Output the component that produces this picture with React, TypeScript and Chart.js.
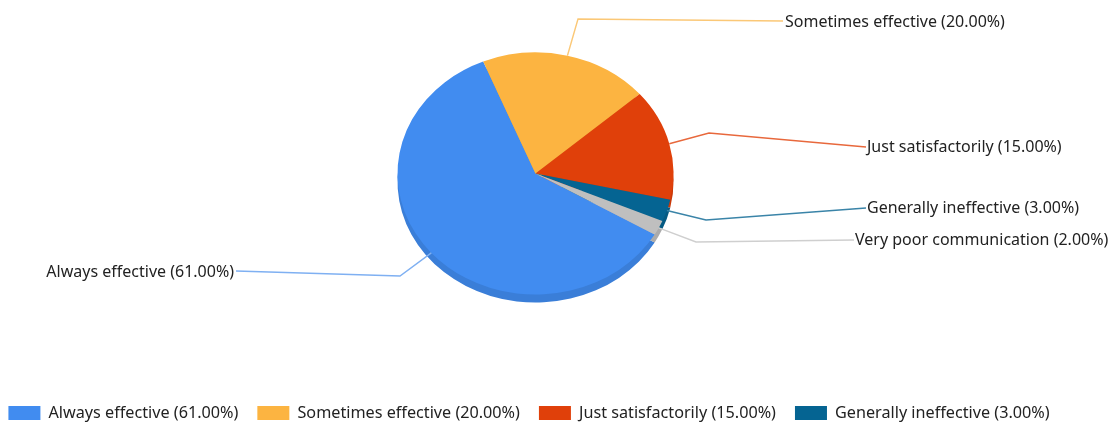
import React, { useEffect, useRef } from "react";
import { Chart, registerables } from "chart.js";

Chart.register(...registerables);

const categories = ["Always effective", "Sometimes effective", "Just satisfactorily", "Generally ineffective", "Very poor communication"];
const values = [61, 20, 15, 3, 2];
const colors = ["#418CF0", "#FCB441", "#E0400A", "#056492", "#BFBFBF"];
const sideColors = ["#3A7ED8", "#E2A23A", "#C93909", "#055A83", "#ABABAB"];
const lineColors = ["#7FB0F2", "#FBC877", "#E8683C", "#3A84A8", "#CFCFCF"];
const labels = categories.map((c, i) => `${c} (${values[i].toFixed(2)}%)`);

const CENTER_X = 535.5;
const CENTER_Y = 173.5;
const RADIUS = 138;
const SQUASH = 0.877;
const DEPTH = 8;
const FONT_SIZE = 16;
const LEGEND_FONT_SIZE = 16.2;
const FONT_FAMILY = "Noto Sans";
const FONT = `${FONT_SIZE}px "${FONT_FAMILY}"`;

// Leader routing: elbow point, end point and text anchor for each label
const leaders = [
  { elbow: [400, 276], end: [236, 271], align: "right", text: [234, 272] },
  { elbow: [578, 19], end: [783, 21], align: "left", text: [785, 22] },
  { elbow: [709, 133], end: [866, 147], align: "left", text: [867, 147.5] },
  { elbow: [706, 220], end: [866, 208], align: "left", text: [867, 208.5] },
  { elbow: [696, 242], end: [854, 240], align: "left", text: [855, 240.5] },
];

const tiltPlugin = {
  id: "tilt",
  beforeDatasetsDraw(chart: any) {
    const { ctx } = chart;
    const arcs = chart.getDatasetMeta(0).data;
    const ax = arcs[0].x;
    const ay = arcs[0].y;
    // side wall of the tilted pie
    ctx.save();
    ctx.translate(CENTER_X, CENTER_Y + DEPTH);
    ctx.scale(1, SQUASH);
    arcs.forEach((a: any, i: number) => {
      ctx.beginPath();
      ctx.moveTo(0, 0);
      ctx.arc(0, 0, a.outerRadius, a.startAngle, a.endAngle);
      ctx.closePath();
      ctx.fillStyle = sideColors[i];
      ctx.fill();
    });
    ctx.restore();
    // top face
    ctx.save();
    ctx.translate(CENTER_X, CENTER_Y);
    ctx.scale(1, SQUASH);
    ctx.translate(-ax, -ay);
  },
  afterDatasetsDraw(chart: any) {
    const { ctx } = chart;
    ctx.restore();
    const arcs = chart.getDatasetMeta(0).data;
    ctx.save();
    ctx.font = FONT;
    ctx.textBaseline = "middle";
    arcs.forEach((a: any, i: number) => {
      const mid = (a.startAngle + a.endAngle) / 2;
      const sx = CENTER_X + Math.cos(mid) * a.outerRadius;
      const sy = CENTER_Y + Math.sin(mid) * a.outerRadius * SQUASH;
      const l = leaders[i];
      ctx.beginPath();
      ctx.moveTo(sx, sy);
      ctx.lineTo(l.elbow[0], l.elbow[1]);
      ctx.lineTo(l.end[0], l.end[1]);
      ctx.strokeStyle = lineColors[i];
      ctx.lineWidth = 1.4;
      ctx.stroke();
      ctx.fillStyle = "#222222";
      ctx.textAlign = l.align;
      ctx.fillText(labels[i], l.text[0], l.text[1]);
    });
    ctx.restore();
  },
};

export default function App() {
  const ref = useRef<HTMLCanvasElement>(null);
  useEffect(() => {
    const chart = new Chart(ref.current!, {
      type: "pie",
      data: {
        labels,
        datasets: [{
          data: values,
          backgroundColor: colors,
          borderWidth: 0,
          radius: RADIUS,
          rotation: 120.3,
        }],
      },
      options: {
        animation: false,
        responsive: false,
        layout: { padding: { left: -28, right: 23, bottom: -7 } },
        plugins: {
          tooltip: { enabled: false },
          legend: {
            position: "bottom",
            align: "center",
            labels: {
              filter: (item: any) => item.index < 4,
              boxWidth: 32,
              boxHeight: 14,
              padding: 19,
              color: "#222222",
              font: { family: FONT_FAMILY, size: LEGEND_FONT_SIZE },
            },
          },
        },
      },
      plugins: [tiltPlugin],
    } as any);
    return () => chart.destroy();
  }, []);
  return (
    <div style={{ position: "absolute", left: 0, top: 0, width: 1109, height: 424 }}>
      <canvas ref={ref} width={1109} height={424} style={{ display: "block" }} />
    </div>
  );
}
